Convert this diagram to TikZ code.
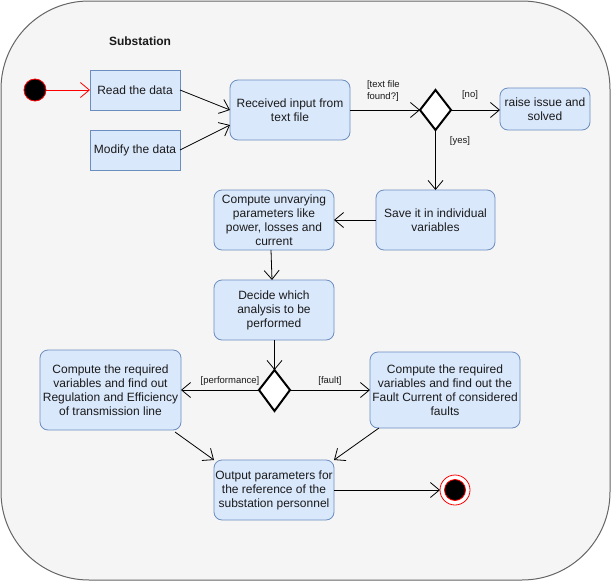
\documentclass[tikz,border=0pt]{standalone}
\usepackage{fontspec}
\setmainfont{Liberation Sans}
\usetikzlibrary{arrows.meta,shapes.geometric}
\definecolor{boxfill}{HTML}{DAE8FC}
\definecolor{boxdraw}{HTML}{6C8EBF}
\definecolor{bgfill}{HTML}{F5F5F5}
\definecolor{bgdraw}{HTML}{666666}
\definecolor{txt}{HTML}{1A1A1A}
\begin{document}
\begin{tikzpicture}[x=1pt,y=-1pt,
  every node/.style={inner sep=0pt,outer sep=0pt},
  act/.style={draw=boxdraw,fill=boxfill,line width=0.8pt,rounded corners=8pt,align=center,
    font=\fontsize{12}{14}\selectfont,text=txt},
  sharpact/.style={act,rounded corners=0pt},
  lbl/.style={font=\fontsize{9.5}{12}\selectfont,text=txt,align=left},
  flow/.style={draw=black,line width=0.8pt,-{Straight Barb[length=9pt,width=15pt,line width=0.8pt]}},
]
\useasboundingbox (0,0) rectangle (611,581);
\draw[fill=bgfill,draw=bgdraw,line width=1pt,rounded corners=88pt] (1,1) rectangle (610,580);
\node[font=\bfseries\fontsize{12}{14}\selectfont,text=txt] (title) at (140,41) {Substation};

\node[circle,fill=black,draw=red,line width=0.8pt,minimum size=22pt] (start) at (35,90) {};
\node[sharpact,minimum width=90pt,minimum height=40pt] (read) at (135,90) {Read the data};
\node[sharpact,minimum width=90pt,minimum height=40pt] (modify) at (135,150) {Modify the data};
\node[act,minimum width=120pt,minimum height=60pt] (recv) at (290,110) {Received input from\\text file};
\path[draw=black,fill=white,line width=2pt] (420,110) -- (435.5,90) -- (451,110) -- (435.5,130) -- cycle;
\coordinate (d1l) at (420,110);
\coordinate (d1r) at (451,110);
\coordinate (d1b) at (435.5,130);
\node[act,minimum width=90pt,minimum height=42pt] (raise) at (545,109) {raise issue and\\solved};
\node[act,minimum width=119pt,minimum height=60pt] (save) at (435.5,220) {Save it in individual\\variables};
\node[act,minimum width=120pt,minimum height=60pt] (unvar) at (274,220) {Compute unvarying\\parameters like\\power, losses and\\current};
\node[act,minimum width=120pt,minimum height=60pt] (decide) at (274,310) {Decide which\\analysis to be\\performed};
\path[draw=black,fill=white,line width=2pt] (259,390) -- (274.5,370) -- (290,390) -- (274.5,411) -- cycle;
\coordinate (d2l) at (259,390);
\coordinate (d2r) at (290,390);
\coordinate (d2t) at (274.5,370);
\node[act,minimum width=141pt,minimum height=80pt] (perf) at (110.5,390) {Compute the required\\variables and find out\\Regulation and Efficiency\\of transmission line};
\node[act,minimum width=150pt,minimum height=76pt] (fault) at (445,390) {Compute the required\\variables and find out the\\Fault Current of considered\\faults};
\node[act,minimum width=120pt,minimum height=60pt] (out) at (274,490) {Output parameters for\\the reference of the\\substation personnel};
\node[circle,draw=red,fill=white,line width=0.8pt,minimum size=30pt] (endo) at (455,490) {};
\node[circle,draw=red,fill=black,line width=0.8pt,minimum size=21pt] (endi) at (455,490) {};

\draw[flow,draw=red,-{Straight Barb[length=9pt,width=15pt,line width=0.8pt,color=red]}] (start) -- (read);
\draw[flow] (read.east) -- (recv.west |- 0,110);
\draw[flow] (modify.east) -- (230,125);
\draw[flow] (recv.east) -- (d1l);
\draw[flow] (d1r) -- (raise.west |- 0,110);
\draw[flow] (d1b) -- (save.north);
\draw[flow] (save.west) -- (unvar.east);
\draw[flow] (unvar.south -| 271,0) -- (decide.north -| 272,0);
\draw[flow] (decide.south -| d2t) -- (d2t);
\draw[flow] (d2l) -- (perf.east);
\draw[flow] (d2r) -- (fault.west);
\draw[flow] (175,432) -- (out.north west);
\draw[flow] (379,428) -- (out.north east);
\draw[flow] (out.east) -- (endo.west);

\node[lbl,anchor=west] (l1) at (367,91) {[text file\\found?]};
\node[lbl] (l2) at (470,95) {[no]};
\node[lbl] (l3) at (460,141) {[yes]};
\node[lbl] (l4) at (230,381) {[performance]};
\node[lbl] (l5) at (330,381) {[fault]};
\end{tikzpicture}
\end{document}
